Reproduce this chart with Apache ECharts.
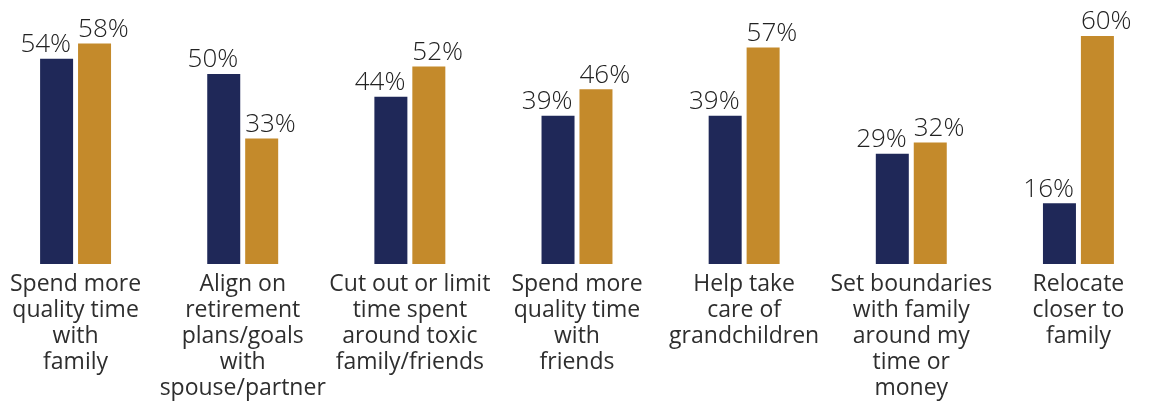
<!DOCTYPE html>
<html>
<head>
<meta charset="utf-8">
<script src="https://cdn.jsdelivr.net/npm/echarts@6/dist/echarts.min.js"></script>
<style>
  html, body { margin: 0; padding: 0; background: #fff; overflow: hidden; }
  /* canvas is a little wider than the page so the outer categories sit near the edges */
  #chart { position: absolute; left: -8px; top: 0; width: 1170px; height: 402px; }
</style>
</head>
<body>
<div id="chart"></div>
<script>
// Categories (line breaks as shown under each pair of bars)
const categories = [
  'Spend more\nquality time\nwith\nfamily',
  'Align on\nretirement\nplans/goals\nwith\nspouse/partner',
  'Cut out or limit\ntime spent\naround toxic\nfamily/friends',
  'Spend more\nquality time\nwith\nfriends',
  'Help take\ncare of\ngrandchildren',
  'Set boundaries\nwith family\naround my\ntime or\nmoney',
  'Relocate\ncloser to\nfamily'
];
// Percent values for the two groups
const seriesA = [54, 50, 44, 39, 39, 29, 16];
const seriesB = [58, 33, 52, 46, 57, 32, 60];

const FONT = '"Open Sans", "Noto Sans", sans-serif';
const TEXT = '#2e2e2e';
const VALUE_TEXT = '#222222';

const chart = echarts.init(document.getElementById('chart'), null, { renderer: 'canvas' });
chart.setOption({
  animation: false,
  grid: { left: 0, right: 0, top: 36, bottom: 138, containLabel: false },
  xAxis: {
    type: 'category',
    data: categories,
    axisLine: { show: false },
    axisTick: { show: false },
    axisLabel: {
      interval: 0,
      margin: 7,
      fontFamily: FONT,
      fontSize: 23,
      lineHeight: 26,
      color: TEXT,
      align: 'center',
      verticalAlign: 'top'
    }
  },
  yAxis: {
    type: 'value',
    min: 0,
    max: 60,
    show: false,
    splitLine: { show: false }
  },
  series: [
    {
      type: 'bar',
      data: seriesA,
      barWidth: 33,
      barGap: '15%',
      itemStyle: { color: '#1f2858' },
      label: {
        show: true,
        position: ['100%', 0],
        align: 'right',
        verticalAlign: 'bottom',
        offset: [-2, -1],
        formatter: '{c}%',
        fontFamily: FONT,
        fontWeight: 300,
        fontSize: 26,
        color: VALUE_TEXT
      }
    },
    {
      type: 'bar',
      data: seriesB,
      barWidth: 33,
      barGap: '15%',
      itemStyle: { color: '#c48a2b' },
      label: {
        show: true,
        position: [0, 0],
        align: 'left',
        verticalAlign: 'bottom',
        offset: [0, -1],
        formatter: '{c}%',
        fontFamily: FONT,
        fontWeight: 300,
        fontSize: 26,
        color: VALUE_TEXT
      }
    }
  ]
});
</script>
</body>
</html>
